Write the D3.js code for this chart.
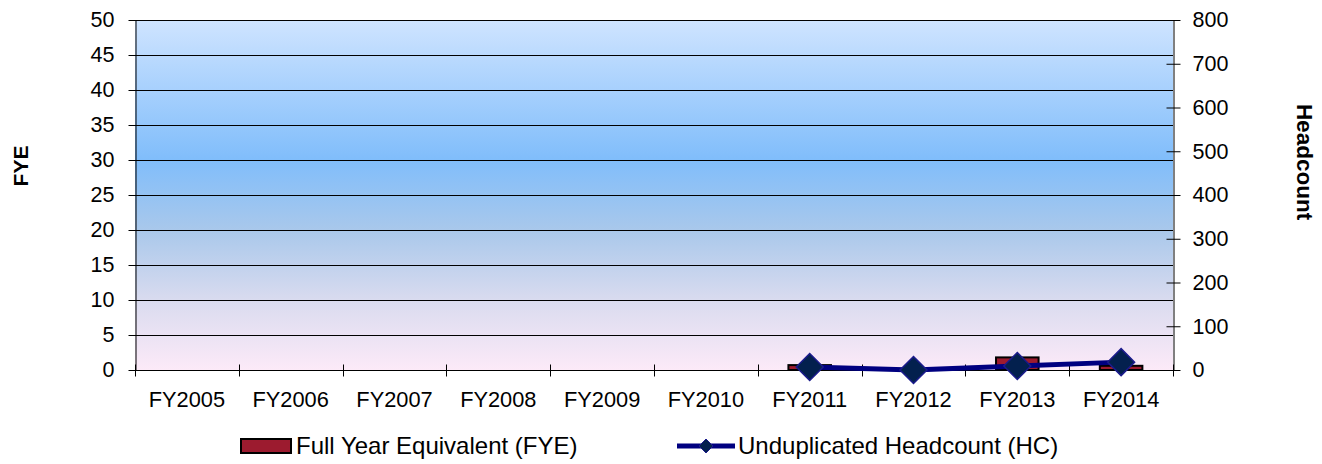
<!DOCTYPE html>
<html>
<head>
<meta charset="utf-8">
<script src="https://cdn.jsdelivr.net/npm/d3@7"></script>
<style>
  html, body { margin: 0; padding: 0; background: #ffffff; }
  svg { display: block; font-family: "Liberation Sans", Arial, sans-serif; }
</style>
</head>
<body>
<svg id="chart" width="1322" height="464"></svg>
<script>
// Fiscal years on the category axis
const categories = ["FY2005", "FY2006", "FY2007", "FY2008", "FY2009", "FY2010", "FY2011", "FY2012", "FY2013", "FY2014"];
// Full Year Equivalent (left axis, bars)
const fyeValues = [0, 0, 0, 0, 0, 0, 0.7, 0, 1.8, 0.6];
// Unduplicated Headcount (right axis, line); null = no data
const hcValues = [null, null, null, null, null, null, 7, 0, 9, 18];
// Axis ticks
const fyeTicks = [0, 5, 10, 15, 20, 25, 30, 35, 40, 45, 50];
const hcTicks = [0, 100, 200, 300, 400, 500, 600, 700, 800];

const seriesNames = ["Full Year Equivalent (FYE)", "Unduplicated Headcount (HC)"];

const svg = d3.select("#chart");
const plot = { left: 135, right: 1173, top: 20, bottom: 370 };

const x = d3.scaleBand().domain(categories).range([plot.left, plot.right]).padding(0);
const yL = d3.scaleLinear().domain([0, 50]).range([plot.bottom, plot.top]);
const yR = d3.scaleLinear().domain([0, 800]).range([plot.bottom, plot.top]);

// Plot-area gradient background
const defs = svg.append("defs");
const grad = defs.append("linearGradient").attr("id", "bg").attr("x1", 0).attr("y1", 0).attr("x2", 0).attr("y2", 1);
[[0, "#cfe4ff"], [0.4, "#80bdfb"], [0.6, "#a9c8eb"], [0.8, "#d9dbef"], [1, "#fceaf8"]]
  .forEach(([o, c]) => grad.append("stop").attr("offset", o).attr("stop-color", c));

svg.append("rect")
  .attr("x", plot.left).attr("y", plot.top)
  .attr("width", plot.right - plot.left).attr("height", plot.bottom - plot.top)
  .attr("fill", "url(#bg)");

// Horizontal gridlines
svg.append("g").selectAll("line")
  .data(fyeTicks.filter(d => d > 0))
  .join("line")
  .attr("x1", plot.left).attr("x2", plot.right)
  .attr("y1", d => yL(d) + 0.5).attr("y2", d => yL(d) + 0.5)
  .attr("stroke", "#000").attr("stroke-width", 1);

// Left axis
const leftAxis = svg.append("g")
  .attr("transform", `translate(${plot.left + 0.5},0)`)
  .call(d3.axisLeft(yL).tickValues(fyeTicks).tickSize(7).tickPadding(14).tickSizeOuter(0));
leftAxis.selectAll("text").attr("font-size", 21.5).attr("fill", "#000");

// Right axis (ticks cross the axis line)
const rightAxis = svg.append("g")
  .attr("transform", `translate(${plot.right + 0.5},0)`)
  .call(d3.axisRight(yR).tickValues(hcTicks).tickSize(7).tickPadding(12).tickSizeOuter(0));
rightAxis.selectAll(".tick line").attr("x1", -7);
rightAxis.selectAll("text").attr("font-size", 21.5).attr("fill", "#000");

// Bottom axis with ticks at category boundaries
const bottom = svg.append("g").attr("transform", `translate(0,${plot.bottom + 0.5})`);
bottom.append("line").attr("x1", plot.left).attr("x2", plot.right).attr("stroke", "#000");
const bounds = categories.map(c => x(c)).concat([plot.right]);
bottom.selectAll("line.tk").data(bounds).join("line").attr("class", "tk")
  .attr("x1", d => Math.round(d) + 0.5).attr("x2", d => Math.round(d) + 0.5)
  .attr("y1", -6).attr("y2", 6).attr("stroke", "#000");
bottom.selectAll("text").data(categories).join("text")
  .attr("x", d => x(d) + x.bandwidth() / 2).attr("y", 36)
  .attr("text-anchor", "middle").attr("font-size", 21.8).attr("fill", "#000")
  .text(d => d);

[leftAxis, rightAxis].forEach(g => {
  g.select(".domain").attr("stroke", "#000");
  g.selectAll(".tick line").attr("stroke", "#000");
});

// FYE bars
const barW = x.bandwidth() * 0.41;
svg.append("g").selectAll("rect")
  .data(categories.map((c, i) => ({ c, v: fyeValues[i] })).filter(d => d.v > 0))
  .join("rect")
  .attr("x", d => x(d.c) + (x.bandwidth() - barW) / 2)
  .attr("y", d => yL(d.v))
  .attr("width", barW)
  .attr("height", d => yL(0) - yL(d.v))
  .attr("fill", "#9c1b2f").attr("stroke", "#000").attr("stroke-width", 2);

// Headcount line and diamond markers
const hcPts = categories.map((c, i) => ({ c, v: hcValues[i] })).filter(d => d.v !== null);
const line = d3.line().x(d => x(d.c) + x.bandwidth() / 2).y(d => yR(d.v));
svg.append("path").datum(hcPts)
  .attr("d", line).attr("fill", "none")
  .attr("stroke", "#000080").attr("stroke-width", 5).attr("stroke-linejoin", "round");

const diamond = (cx, cy, r) => `M${cx},${cy - r}L${cx + r},${cy}L${cx},${cy + r}L${cx - r},${cy}Z`;
svg.append("g").selectAll("path")
  .data(hcPts).join("path")
  .attr("d", d => diamond(x(d.c) + x.bandwidth() / 2, yR(d.v), 13.5))
  .attr("fill", "#03204e").attr("stroke", "#1b1b8c").attr("stroke-width", 1.5);

// Axis titles
svg.append("text")
  .attr("transform", "translate(28,166) rotate(-90)")
  .attr("text-anchor", "middle").attr("font-size", 21).attr("font-weight", "bold")
  .text("FYE");
svg.append("text")
  .attr("transform", "translate(1297,162) rotate(90)")
  .attr("text-anchor", "middle").attr("font-size", 22.5).attr("font-weight", "bold")
  .text("Headcount");

// Legend
const lg = svg.append("g");
lg.append("rect").attr("x", 241).attr("y", 439).attr("width", 50).attr("height", 14)
  .attr("fill", "#9c1b2f").attr("stroke", "#000").attr("stroke-width", 2);
lg.append("text").attr("x", 296).attr("y", 454).attr("font-size", 24).text(seriesNames[0]);
lg.append("line").attr("x1", 677).attr("x2", 735).attr("y1", 446).attr("y2", 446)
  .attr("stroke", "#000080").attr("stroke-width", 5);
lg.append("path").attr("d", diamond(706, 446, 7))
  .attr("fill", "#03204e").attr("stroke", "#1b1b8c").attr("stroke-width", 1);
lg.append("text").attr("x", 738).attr("y", 454).attr("font-size", 24).text(seriesNames[1]);
</script>
</body>
</html>
